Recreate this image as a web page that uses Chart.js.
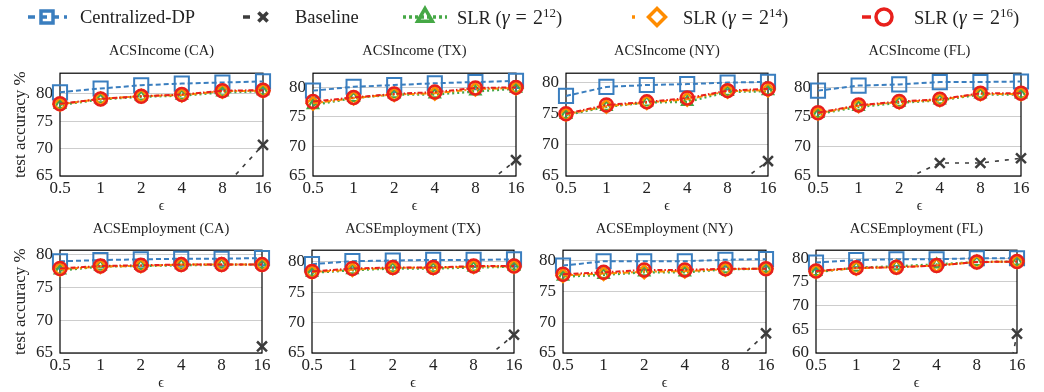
<!DOCTYPE html>
<html>
<head>
<meta charset="utf-8">
<script src="https://cdn.jsdelivr.net/npm/chart.js@4.4.0/dist/chart.umd.min.js"></script>
<style>
  body { margin: 0; width: 1044px; height: 392px; background: #fff; position: relative; overflow: hidden;
         font-family: "Liberation Serif", "DejaVu Serif", serif; color: #222; }
  canvas { position: absolute; }
  .ttl { position: absolute; font-size: 14.5px; line-height: 17px; text-align: center; white-space: nowrap; }
  .leg { position: absolute; top: 6px; font-size: 18.5px; line-height: 22px; white-space: nowrap; }
  .leg .m { font-size: 20px; }
  .leg sup { font-size: 13px; line-height: 0; vertical-align: 7px; }
  .leg .eq { margin: 0 6px; }
</style>
</head>
<body>
<script>
// x categories (epsilon), equally spaced like a log2 axis
const epsLabels = ['0.5', '1', '2', '4', '8', '16'];

const panelTitles = [
  'ACSIncome (CA)', 'ACSIncome (TX)', 'ACSIncome (NY)', 'ACSIncome (FL)',
  'ACSEmployment (CA)', 'ACSEmployment (TX)', 'ACSEmployment (NY)', 'ACSEmployment (FL)'
];

const yMin = [65, 65, 65, 65, 65, 65, 65, 60];
const yMax = [83.8, 82.4, 81.5, 82.4, 80.7, 81.9, 81.7, 81.7];

const centralizedDP = [
  [80.3, 81.0, 81.6, 81.9, 82.1, 82.3],
  [79.45, 80.1, 80.4, 80.7, 80.9, 81.1],
  [77.85, 79.3, 79.6, 79.75, 80.0, 80.1],
  [79.45, 80.3, 80.5, 80.9, 80.9, 81.0],
  [79.0, 79.2, 79.3, 79.4, 79.4, 79.5],
  [79.6, 80.1, 80.2, 80.3, 80.3, 80.4],
  [79.2, 79.9, 79.9, 79.9, 80.15, 80.25],
  [79.1, 79.6, 79.8, 79.8, 80.0, 80.0]
];

// baseline sits mostly below the visible range
const baseline = [
  [null, null, null, null, 62.6, 70.7],
  [null, null, null, null, 62.2, 67.7],
  [null, null, null, null, 62.5, 67.4],
  [null, null, 64.0, 67.2, 67.2, 68.0],
  [null, null, null, null, 45.0, 66.0],
  [null, null, null, null, 62.4, 68.0],
  [null, null, null, null, 62.0, 68.2],
  [null, null, null, null, 20.0, 64.1]
];

const slr12 = [
  [78.0, 79.0, 79.5, 79.7, 80.3, 80.5],
  [77.0, 78.2, 78.8, 78.8, 79.3, 79.8],
  [74.8, 76.1, 76.8, 76.9, 78.5, 78.6],
  [75.5, 76.7, 77.4, 77.8, 78.8, 78.8],
  [77.6, 78.2, 78.3, 78.4, 78.5, 78.5],
  [78.2, 78.6, 78.9, 78.9, 79.05, 79.2],
  [77.4, 77.7, 78.1, 78.1, 78.6, 78.7],
  [77.1, 78.0, 78.3, 78.7, 79.2, 79.3]
];

const slr14 = [
  [78.1, 79.1, 79.6, 79.8, 80.5, 80.6],
  [77.3, 78.2, 78.8, 79.0, 79.7, 79.9],
  [74.9, 76.2, 76.8, 77.3, 78.6, 78.8],
  [75.6, 76.9, 77.5, 77.9, 78.9, 78.9],
  [77.8, 78.2, 78.3, 78.5, 78.5, 78.5],
  [78.3, 78.7, 79.0, 79.0, 79.2, 79.2],
  [77.6, 77.9, 78.2, 78.3, 78.6, 78.7],
  [77.2, 77.9, 78.1, 78.5, 79.2, 79.3]
];

const slr16 = [
  [78.2, 79.1, 79.6, 79.9, 80.6, 80.7],
  [77.6, 78.3, 78.9, 79.2, 79.9, 80.0],
  [75.0, 76.4, 76.9, 77.5, 78.7, 79.0],
  [75.7, 77.0, 77.6, 78.0, 79.0, 79.0],
  [77.9, 78.3, 78.4, 78.5, 78.5, 78.5],
  [78.4, 78.9, 79.05, 79.05, 79.3, 79.3],
  [77.8, 78.1, 78.5, 78.5, 78.7, 78.7],
  [77.3, 78.0, 78.1, 78.45, 79.2, 79.3]
];

// plot area boxes: left, right, top, bottom
const boxes = [
  [60, 263, 68, 176], [313, 516, 68, 176], [566, 768, 68, 176], [818, 1021, 68, 176],
  [60, 262, 245, 353], [312, 514, 245, 353], [563, 766, 245, 353], [816, 1017, 245, 353]
];

const BLUE = '#3a7ebf', GREY = '#3c3c3c', GREEN = '#45a845', ORANGE = '#ff8c00', RED = '#e8201c';
const serif = 'Liberation Serif';

const styles = [
  { name: 'Centralized-DP', color: BLUE, point: 'rect', r: 10, pbw: 2, dash: [5, 3], lw: 2, order: 5 },
  { name: 'Baseline', color: GREY, point: 'crossRot', r: 7, pbw: 2.5, dash: [4, 6], lw: 1.6, order: 4 },
  { name: 'SLR12', color: GREEN, point: 'triangle', r: 6, pbw: 2.2, dash: [2, 3], lw: 2.4, order: 3 },
  { name: 'SLR14', color: ORANGE, point: 'rectRot', r: 6.5, pbw: 2.4, dash: [6, 2, 2, 2], lw: 2, order: 2 },
  { name: 'SLR16', color: RED, point: 'circle', r: 6.5, pbw: 2.5, dash: [5, 2, 1.5, 2], lw: 2, order: 1 }
];

const framePlugin = {
  id: 'frame',
  beforeDatasetsDraw(chart) {
    const { ctx, chartArea: a } = chart;
    ctx.save();
    ctx.strokeStyle = '#000';
    ctx.lineWidth = 1.2;
    ctx.strokeRect(a.left, a.top, a.right - a.left, a.bottom - a.top);
    ctx.restore();
  }
};

function dataset(s, data) {
  return {
    label: s.name, data: data, order: s.order,
    borderColor: s.color, borderWidth: s.lw, borderDash: s.dash,
    backgroundColor: 'rgba(0,0,0,0)', fill: false, tension: 0,
    pointStyle: s.point, pointRadius: s.r, pointBorderWidth: s.pbw,
    pointBorderColor: s.color, pointBackgroundColor: 'rgba(0,0,0,0)',
    clip: { left: 16, right: 16, top: 16, bottom: 0 }
  };
}

boxes.forEach((b, i) => {
  const col = i % 4;
  const yw = col === 0 ? 60 : 46;
  const padTop = 12, xh = 39, padRight = 14;
  const left = b[0] - yw;
  const width = b[1] + padRight - left;
  const top = b[2] - padTop;
  const height = padTop + (b[3] - b[2]) + xh;

  const cv = document.createElement('canvas');
  cv.width = width; cv.height = height;
  cv.style.left = left + 'px'; cv.style.top = top + 'px';
  cv.style.width = width + 'px'; cv.style.height = height + 'px';
  document.body.appendChild(cv);

  const t = document.createElement('div');
  t.className = 'ttl';
  t.textContent = panelTitles[i];
  t.style.left = b[0] + 'px';
  t.style.width = (b[1] - b[0]) + 'px';
  t.style.top = (i < 4 ? 41.5 : 219.5) + 'px';
  document.body.appendChild(t);

  const series = [centralizedDP[i], baseline[i], slr12[i], slr14[i], slr16[i]];

  new Chart(cv, {
    type: 'line',
    data: { labels: epsLabels, datasets: styles.map((s, k) => dataset(s, series[k])) },
    options: {
      responsive: false, animation: false, devicePixelRatio: 1,
      layout: { padding: { top: padTop, right: padRight, bottom: 0, left: 0 } },
      plugins: { legend: { display: false }, tooltip: { enabled: false } },
      scales: {
        x: {
          grid: { display: false, drawTicks: false },
          border: { display: false },
          ticks: { color: '#222', padding: 2, maxRotation: 0, autoSkip: false, font: { family: serif, size: 17 } },
          title: { display: true, text: 'ϵ', color: '#222', font: { family: serif, size: 14 }, padding: { top: 0, bottom: 0 } },
          afterFit: s => { s.height = xh; }
        },
        y: {
          min: yMin[i], max: yMax[i],
          grid: { color: '#cdcdcd', lineWidth: 1, drawTicks: false },
          border: { display: false },
          ticks: { stepSize: 5, includeBounds: false, color: '#222', padding: 7, font: { family: serif, size: 17 } },
          title: { display: col === 0, text: 'test accuracy %', color: '#222', font: { family: serif, size: 17 }, padding: { top: 10 } },
          afterFit: s => { s.width = yw; }
        }
      }
    },
    plugins: [framePlugin]
  });
});

// legend row across the top
const slrText = p => 'SLR (<span class="m"><i>γ</i><span class="eq">=</span>2</span><sup>' + p + '</sup>)';
const legendItems = [
  { s: 0, cx: 47, x0: 28, x1: 67, dash: [7, 5], r: 8.5, bw: 3.5, text: 'Centralized-DP', tx: 80 },
  { s: 1, cx: 263, x0: 243, x1: 283, dash: [7, 40], r: 6.5, bw: 3.5, text: 'Baseline', tx: 295 },
  { s: 2, cx: 425, x0: 403, x1: 447, dash: [3, 3], r: 8.5, bw: 3.5, text: slrText(12), tx: 457 },
  { s: 3, cx: 657, x0: 632, x1: 680, dash: [3, 60], r: 8.5, bw: 3.5, text: slrText(14), tx: 683 },
  { s: 4, cx: 884, x0: 862, x1: 906, dash: [9, 60], r: 8, bw: 3.8, text: slrText(16), tx: 914 }
];
legendItems.forEach(it => {
  const s = styles[it.s];
  const c = document.createElement('canvas');
  c.width = 60; c.height = 30;
  const ox = it.cx - 30;
  c.style.left = ox + 'px'; c.style.top = '2px';
  document.body.appendChild(c);
  const ctx = c.getContext('2d');
  ctx.strokeStyle = s.color;
  ctx.lineWidth = 3.5;
  ctx.setLineDash(it.dash);
  ctx.beginPath(); ctx.moveTo(it.x0 - ox, 15); ctx.lineTo(it.x1 - ox, 15); ctx.stroke();
  ctx.setLineDash([]);
  ctx.fillStyle = 'rgba(0,0,0,0)';
  Chart.helpers.drawPoint(ctx, { pointStyle: s.point, radius: it.r, borderWidth: it.bw, rotation: 0 }, 30, 15);

  const d = document.createElement('div');
  d.className = 'leg';
  d.style.left = it.tx + 'px';
  d.innerHTML = it.text;
  document.body.appendChild(d);
});
</script>
</body>
</html>
